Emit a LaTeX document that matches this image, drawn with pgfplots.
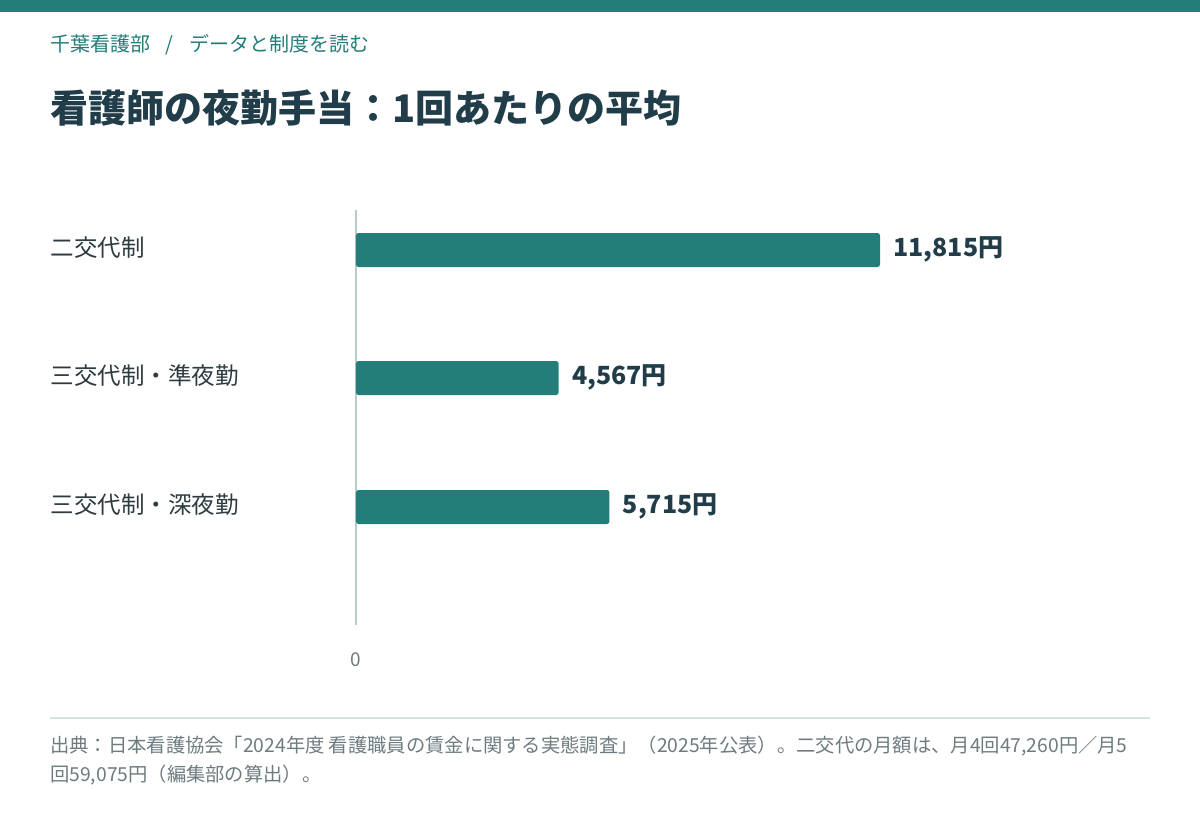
\documentclass[border=0pt]{standalone}
\usepackage{fontspec}
\setmainfont{Noto Sans CJK JP}
\usepackage{pgfplots}
\usepackage{pgfplotstable}
\pgfplotsset{compat=1.18}

\definecolor{barteal}{HTML}{237E7A}
\definecolor{titledark}{HTML}{213D4A}
\definecolor{labeldark}{HTML}{2E3B40}
\definecolor{footgray}{HTML}{6E7C80}
\definecolor{axisgray}{HTML}{B9CAC7}
\definecolor{rulegray}{HTML}{D6E4E1}

% 1回あたりの夜勤手当（円）
\pgfplotstableread{
val pos label
11815 -250 11,815円
4567 -378 4,567円
5715 -507 5,715円
}\nightdata

\begin{document}
\begin{tikzpicture}[x=1pt,y=1pt]
% canvas 1200 x 820 (1px = 1pt)
\fill[white] (0,0) rectangle (1200,-820);
\fill[barteal] (0,0) rectangle (1200,-12);

\node[anchor=west, inner sep=0pt, text=barteal, font=\fontsize{20}{24}\selectfont]
  at (50,-45) {千葉看護部\hspace{15pt}/\hspace{16pt}データと制度を読む};
\node[anchor=west, inner sep=0pt, text=titledark, font=\fontsize{38}{44}\selectfont\bfseries]
  at (50,-108) {看護師の夜勤手当：1回あたりの平均};

\begin{axis}[
    scale only axis,
    width=794pt, height=415pt,
    at={(356pt,-625pt)}, anchor=south west,
    xmin=0, xmax=17903,
    ymin=-625, ymax=-210,
    xbar, bar width=34pt, bar shift=0pt,
    axis lines*=left,
    x axis line style={draw=none},
    y axis line style={-, draw=axisgray, line width=1.5pt},
    tick style={draw=none},
    xtick={0},
    scaled x ticks=false,
    /pgf/number format/assume math mode=true,
    xticklabel style={anchor=center, inner sep=0pt, yshift=-35pt,
        text=footgray, font=\fontsize{19}{23}\selectfont},
    ytick={-248,-376,-505},
    yticklabels={二交代制, 三交代制・準夜勤, 三交代制・深夜勤},
    yticklabel style={anchor=west, inner sep=0pt, xshift=-301pt,
        text=labeldark, font=\fontsize{23.5}{28}\selectfont},
    point meta=explicit symbolic,
    nodes near coords,
    nodes near coords style={anchor=west, xshift=10pt, yshift=1pt, text=titledark,
        font=\fontsize{25}{29}\selectfont\bfseries},
    clip=false,
]
\addplot[fill=barteal, draw=none, rounded corners=2.5pt]
    table[x=val, y=pos, meta=label] {\nightdata};
\end{axis}

\draw[rulegray, line width=2pt] (50,-718) -- (1150,-718);
\node[anchor=west, inner sep=0pt, text=footgray, font=\fontsize{19.3}{23}\selectfont]
  at (50,-746) {出典：日本看護協会「2024年度 看護職員の賃金に関する実態調査」（2025年公表）。二交代の月額は、月4回47,260円／月5};
\node[anchor=west, inner sep=0pt, text=footgray, font=\fontsize{19.3}{23}\selectfont]
  at (50,-775) {回59,075円（編集部の算出）。};
\end{tikzpicture}
\end{document}
